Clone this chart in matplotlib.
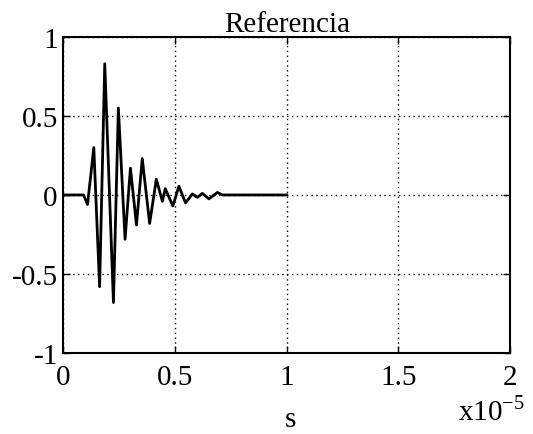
import numpy as np
import matplotlib
matplotlib.use("Agg")
import matplotlib.pyplot as plt

plt.rcParams['font.family'] = ['Liberation Serif', 'DejaVu Serif']

# Signal samples: time in microseconds, amplitude (normalised)
t_us = [0.0, 0.9, 1.08, 1.36, 1.62, 1.85, 2.24, 2.46, 2.76, 3.00, 3.27,
        3.53, 3.86, 4.16, 4.43, 4.56, 4.90, 5.17, 5.47, 5.77, 6.00, 6.22,
        6.52, 6.89, 7.12, 10.0]
amp = [0.0, 0.0, -0.06, 0.30, -0.58, 0.83, -0.68, 0.55, -0.28, 0.17, -0.19,
       0.23, -0.18, 0.10, -0.04, 0.04, -0.07, 0.055, -0.05, 0.006, -0.015,
       0.01, -0.025, 0.016, 0.0, 0.0]

x_ticks = [0, 0.5e-5, 1e-5, 1.5e-5, 2e-5]
x_labels = ["0", "0.5", "1", "1.5", "2"]
y_ticks = [-1, -0.5, 0, 0.5, 1]
y_labels = ["-1", "-0.5", "0", "0.5", "1"]

t_s = np.array(t_us) * 1e-6

fig = plt.figure(figsize=(5.33, 4.35), dpi=100)
ax = fig.add_axes([0.119, 0.186, 0.838, 0.727])

ax.plot(t_s, amp, color='black', linewidth=2.0, solid_joinstyle='round')

ax.set_xlim(0, 2e-5)
ax.set_ylim(-1, 1)
ax.set_xticks(x_ticks)
ax.set_xticklabels(x_labels)
ax.set_yticks(y_ticks)
ax.set_yticklabels(y_labels)
ax.tick_params(direction='in', length=5, width=1, labelsize=21, pad=8,
               top=True, right=True, color='black')
ax.tick_params(axis='y', pad=4)
ax.grid(True, linestyle=(0, (1, 2.5)), color='black', linewidth=1)

for sp in ax.spines.values():
    sp.set_linewidth(1.5)

ax.set_title("Referencia", fontsize=21, pad=4)
fig.text(0.545, 0.035, "s", fontsize=21, ha='center', va='center')
fig.text(0.86, 0.055, r"x10$^{\mathregular{-5}}$", fontsize=21,
         ha='left', va='center')

fig.savefig("out.png", dpi=100, facecolor='white')
